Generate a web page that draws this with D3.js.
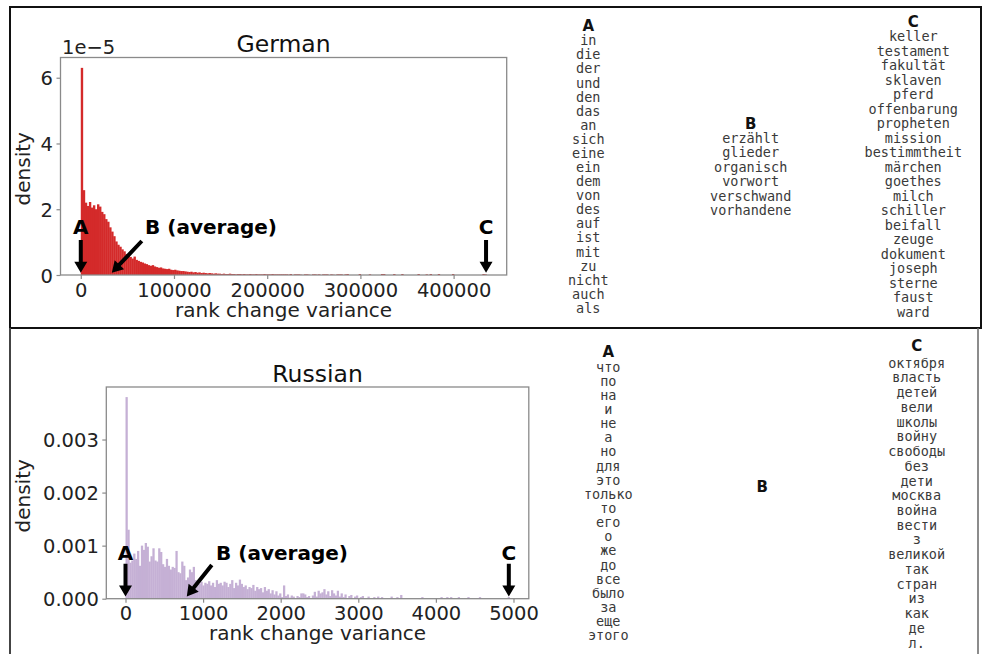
<!DOCTYPE html>
<html><head><meta charset="utf-8">
<script src="https://cdn.jsdelivr.net/npm/d3@7"></script>
<style>html,body{margin:0;padding:0;background:#fff;} svg{display:block;}</style>
</head><body>
<svg id="chart" width="988" height="654"></svg>
<script>
// ---------------- DATA ----------------
// German: histogram densities (×1e-5), bins of equal width starting at 0
const germanBinWidth = 2176;
const germanDensity = [
 6.30, 2.58, 2.20, 2.10, 2.22, 2.05, 2.12, 2.00, 2.15, 2.08,
 1.92, 1.85, 1.70, 1.62, 1.45, 1.32, 1.18, 1.02, 0.92, 0.86,
 0.78, 0.72, 0.64, 0.58, 0.55, 0.50, 0.56, 0.46, 0.43, 0.40,
 0.38, 0.35, 0.33, 0.30, 0.28, 0.30, 0.26, 0.24, 0.22, 0.23,
 0.20, 0.19, 0.18, 0.19, 0.16, 0.15, 0.16, 0.14, 0.13, 0.12,
 0.12, 0.11, 0.10, 0.09, 0.10, 0.08, 0.09, 0.07, 0.08, 0.06,
 0.07, 0.06, 0.05, 0.06, 0.05, 0.04, 0.05, 0.04, 0.04, 0.03,
 0.04, 0.03, 0.03, 0.04, 0.03, 0.03, 0.02, 0.03, 0.03, 0.02,
 0.03, 0.02, 0.02, 0.03, 0.02, 0.02, 0.03, 0.02, 0.02, 0.02,
 0.03, 0.02, 0.02, 0.02, 0.03, 0.02, 0.02, 0.02, 0.02, 0.02,
 0.02, 0.02, 0.01, 0.03, 0.00, 0.02, 0.02, 0.02, 0.01, 0.00,
 0.02, 0.02, 0.01, 0.00, 0.02, 0.02, 0.01, 0.02, 0.00, 0.02,
 0.02, 0.02, 0.00, 0.02, 0.01, 0.00, 0.02, 0.02, 0.02, 0.00,
 0.02, 0.03, 0, 0, 0, 0, 0, 0.03, 0, 0,
 0, 0, 0.02, 0, 0, 0, 0, 0, 0.03, 0.03,
 0, 0, 0, 0, 0.03, 0, 0, 0, 0.03, 0,
 0, 0, 0, 0, 0, 0, 0.03, 0, 0, 0,
 0.02, 0, 0.03, 0, 0, 0, 0.03, 0, 0, 0,
 0, 0, 0, 0.03, 0, 0, 0, 0, 0, 0,
 0, 0, 0, 0, 0, 0, 0, 0, 0.03, 0.02
];
const germanXTicks = [0, 100000, 200000, 300000, 400000];
const germanYTicks = [0, 2, 4, 6];
const germanYTickLabels = ["0", "2", "4", "6"];
const germanOffsetLabel = "1e\u22125";
const germanMarks = [0, 33300, 434800];           // A, B (average), C
const germanWordsA = ["in","die","der","und","den","das","an","sich","eine","ein","dem","von","des","auf","ist","mit","zu","nicht","auch","als"];
const germanWordsB = ["erzählt","glieder","organisch","vorwort","verschwand","vorhandene"];
const germanWordsC = ["keller","testament","fakultät","sklaven","pferd","offenbarung","propheten","mission","bestimmtheit","märchen","goethes","milch","schiller","beifall","zeuge","dokument","joseph","sterne","faust","ward"];

// Russian: histogram densities (×1e-3), bins of equal width starting at 0
const russianBinWidth = 24.75;
const russianDensity = [
 3.80, 1.30, 0.68, 0.72, 0.85, 0.75, 0.90, 0.62, 1.00, 0.92,
 1.05, 0.98, 0.70, 0.80, 0.95, 0.72, 0.70, 0.95, 0.88, 0.65,
 0.60, 0.75, 0.62, 0.55, 0.60, 0.58, 0.90, 0.50, 0.48, 0.70,
 0.62, 0.35, 0.40, 0.55, 0.50, 0.60, 0.35, 0.30, 0.28, 0.32,
 0.25, 0.30, 0.28, 0.33, 0.25, 0.30, 0.22, 0.35, 0.28, 0.30,
 0.25, 0.32, 0.30, 0.22, 0.28, 0.35, 0.20, 0.30, 0.25, 0.36,
 0.28, 0.22, 0.25, 0.18, 0.22, 0.20, 0.26, 0.15, 0.22, 0.18,
 0.20, 0.12, 0.22, 0.15, 0.18, 0.10, 0.16, 0.08, 0.14, 0.06,
 0.10, 0.03, 0.25, 0.05, 0.08, 0.02, 0.06, 0.04, 0.00, 0.05,
 0.03, 0.10, 0.10, 0.08, 0.03, 0.05, 0.00, 0.06, 0.13, 0.04,
 0.15, 0.10, 0.12, 0.18, 0.08, 0.14, 0.05, 0.16, 0.10, 0.06,
 0.15, 0.04, 0.10, 0.03, 0.08, 0.00, 0.05, 0.07, 0.00, 0.04,
 0.06, 0.00, 0.03, 0.05, 0.00, 0.00, 0.04, 0.00, 0.00, 0.03,
 0.00, 0.04, 0.00, 0.03, 0.00, 0.00, 0.00, 0.00, 0.04, 0.00,
 0.00, 0.03, 0.00, 0.07, 0, 0, 0, 0, 0, 0,
 0, 0, 0, 0, 0.03, 0, 0, 0, 0, 0,
 0, 0, 0, 0, 0.03, 0, 0, 0.03, 0, 0.03,
 0, 0, 0, 0.03, 0, 0, 0, 0, 0.03, 0,
 0, 0, 0, 0, 0.03, 0, 0, 0, 0, 0,
 0, 0, 0, 0, 0, 0, 0, 0, 0, 0.03
];
const russianXTicks = [0, 1000, 2000, 3000, 4000, 5000];
const russianYTicks = [0, 1, 2, 3];
const russianYTickLabels = ["0.000", "0.001", "0.002", "0.003"];
const russianMarks = [0, 790, 4940];
const russianWordsA = ["что","по","на","и","не","а","но","для","это","только","то","его","о","же","до","все","было","за","еще","этого"];
const russianWordsB = [];
const russianWordsC = ["октября","власть","детей","вели","школы","войну","свободы","без","дети","москва","война","вести","з","великой","так","стран","из","как","де","л."];

const markLabels = ["A", "B (average)", "C"];
const columnHeaders = ["A", "B", "C"];

// ---------------- DRAWING ----------------
const svg = d3.select("#chart");
const SANS = "'DejaVu Sans', sans-serif";
const MONO = "'DejaVu Sans Mono', monospace";

// panel frames
svg.append("rect").attr("x", 10).attr("y", 7).attr("width", 971).attr("height", 321)
  .attr("fill", "none").attr("stroke", "#111").attr("stroke-width", 2);
svg.append("line").attr("x1", 10).attr("x2", 10).attr("y1", 328).attr("y2", 654)
  .attr("stroke", "#444").attr("stroke-width", 2);
svg.append("line").attr("x1", 978).attr("x2", 978).attr("y1", 328).attr("y2", 654)
  .attr("stroke", "#666").attr("stroke-width", 1.5);

function arrowPath(x1, y1, x2, y2) {
  const dx = x2 - x1, dy = y2 - y1, L = Math.hypot(dx, dy);
  const ux = dx / L, uy = dy / L, px = -uy, py = ux;
  const hl = 11, hw = 6.5, sw = 2;
  const bx = x2 - ux * hl, by = y2 - uy * hl;
  const p = [
    [x1 + px * sw, y1 + py * sw], [bx + px * sw, by + py * sw], [bx + px * hw, by + py * hw],
    [x2, y2], [bx - px * hw, by - py * hw], [bx - px * sw, by - py * sw], [x1 - px * sw, y1 - py * sw]
  ];
  return "M" + p.map(q => q[0].toFixed(2) + "," + q[1].toFixed(2)).join("L") + "Z";
}

function drawHist(cfg) {
  const g = svg.append("g");
  const n = cfg.values.length;
  const xmax = n * cfg.binWidth;
  const ymax = d3.max(cfg.values) * 1.05;
  const x = d3.scaleLinear().domain([-0.05 * xmax, xmax * 1.05]).range([cfg.left, cfg.right]);
  const y = d3.scaleLinear().domain([0, ymax]).range([cfg.bottom, cfg.top]);

  g.selectAll("rect.bar").data(cfg.values).join("rect")
    .attr("class", "bar")
    .attr("x", (d, i) => x(i * cfg.binWidth))
    .attr("width", (d, i) => x((i + 1) * cfg.binWidth) - x(i * cfg.binWidth) + 0.35)
    .attr("y", d => y(d))
    .attr("height", d => y(0) - y(d))
    .attr("fill", cfg.color);

  // spines
  g.append("rect").attr("x", cfg.left).attr("y", cfg.top)
    .attr("width", cfg.right - cfg.left).attr("height", cfg.bottom - cfg.top)
    .attr("fill", "none").attr("stroke", "#8a8a8a").attr("stroke-width", 1.3);

  const xAxis = g.append("g").attr("transform", `translate(0,${cfg.bottom})`)
    .call(d3.axisBottom(x).tickValues(cfg.xTicks).tickFormat(d3.format("d")).tickSize(4).tickPadding(3.5));
  const yAxis = g.append("g").attr("transform", `translate(${cfg.left},0)`)
    .call(d3.axisLeft(y).tickValues(cfg.yTicks).tickFormat((d, i) => cfg.yTickLabels[i]).tickSize(4).tickPadding(3.5));
  [xAxis, yAxis].forEach(a => {
    a.select(".domain").remove();
    a.selectAll(".tick line").attr("stroke", "#8a8a8a").attr("stroke-width", 1.2);
    a.selectAll(".tick text").attr("font-family", SANS).attr("font-size", 19.5).attr("fill", "#222");
  });
  xAxis.selectAll(".tick text").attr("dy", "0.73em");
  yAxis.selectAll(".tick text").attr("dy", "0.36em");

  const cx = (cfg.left + cfg.right) / 2;
  g.append("text").attr("x", cx).attr("y", cfg.top - 5.3).attr("text-anchor", "middle")
    .attr("font-family", SANS).attr("font-size", 23.5).attr("fill", "#111").text(cfg.title);
  g.append("text").attr("x", cx).attr("y", cfg.bottom + 41.6).attr("text-anchor", "middle")
    .attr("font-family", SANS).attr("font-size", 20).attr("fill", "#222").text("rank change variance");
  const ly = (cfg.top + cfg.bottom) / 2 + cfg.ylabelShift;
  g.append("text").attr("transform", `translate(29.5,${ly}) rotate(-90)`).attr("text-anchor", "middle")
    .attr("font-family", SANS).attr("font-size", 20).attr("fill", "#222").text("density");
  if (cfg.offsetLabel) {
    g.append("text").attr("x", cfg.left + 1.5).attr("y", cfg.top - 3.5)
      .attr("font-family", SANS).attr("font-size", 19.5).attr("fill", "#222").text(cfg.offsetLabel);
  }

  // annotations
  const base = y(0);
  cfg.marks.forEach((m, i) => {
    const tx = x(m), ty = base - 2.3;
    let sx = tx, sy = base - 35;
    if (i === 1) { sx = tx + cfg.bTail[0]; sy = base - cfg.bTail[1]; }
    g.append("path").attr("d", arrowPath(sx, sy, tx, ty)).attr("fill", "#000");
    const t = g.append("text").attr("font-family", SANS).attr("font-weight", "bold")
      .attr("font-size", 20).attr("fill", "#000").attr("y", base - cfg.labelRise).text(markLabels[i]);
    if (i === 1) t.attr("x", tx + cfg.bTextDx).attr("text-anchor", "start");
    else t.attr("x", tx).attr("text-anchor", "middle");
  });
}

function drawColumn(x, headerY, words, firstY, step) {
  svg.append("text").attr("x", x).attr("y", headerY + 5.5).attr("text-anchor", "middle")
    .attr("font-family", SANS).attr("font-weight", "bold").attr("font-size", 15).attr("fill", "#111")
    .text(columnHeaders[drawColumn.k % 3]);
  drawColumn.k++;
  svg.append("g").selectAll("text").data(words).join("text")
    .attr("x", x).attr("y", (d, i) => firstY + i * step + 4.3)
    .attr("text-anchor", "middle").attr("font-family", MONO).attr("font-size", 13.5)
    .attr("fill", "#3a3a3a").text(d => d);
}
drawColumn.k = 0;

drawHist({
  title: "German", values: germanDensity, binWidth: germanBinWidth, color: "#d42a2a",
  left: 60.5, right: 506.7, top: 57.5, bottom: 275,
  xTicks: germanXTicks, yTicks: germanYTicks, yTickLabels: germanYTickLabels,
  offsetLabel: germanOffsetLabel, marks: germanMarks, ylabelShift: 2.5,
  bTail: [30, 34], bTextDx: 33.3, labelRise: 40.7
});
drawHist({
  title: "Russian", values: russianDensity, binWidth: russianBinWidth, color: "#c5b0d5",
  left: 106.3, right: 528.8, top: 387, bottom: 598.7,
  xTicks: russianXTicks, yTicks: russianYTicks, yTickLabels: russianYTickLabels,
  offsetLabel: null, marks: russianMarks, ylabelShift: 3,
  bTail: [25, 33.7], bTextDx: 29.3, labelRise: 38.7
});

drawColumn(588.3, 25, germanWordsA, 41, 14.08);
drawColumn(750.7, 123.3, germanWordsB, 138.3, 14.5);
drawColumn(913.3, 21.7, germanWordsC, 37, 14.5);
drawColumn(608.3, 351.7, russianWordsA, 367.3, 14.14);
drawColumn(762.3, 486, russianWordsB, 500, 14.5);
drawColumn(916.7, 345, russianWordsC, 363.3, 14.74);
</script>
</body></html>
